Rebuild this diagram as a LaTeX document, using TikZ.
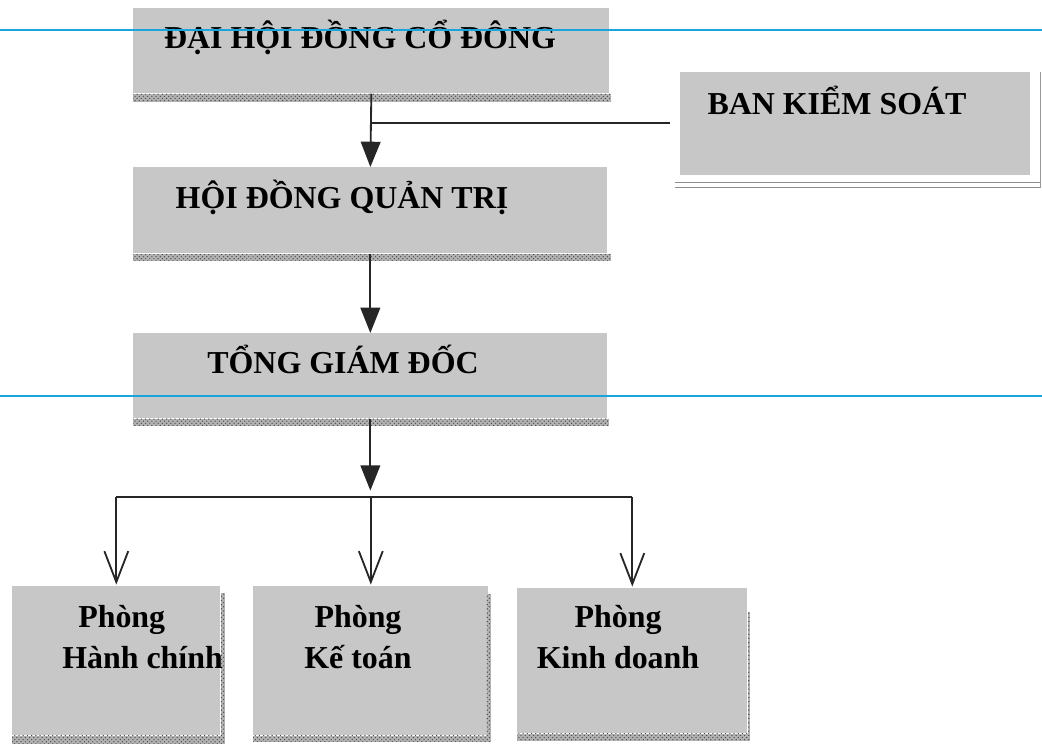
\documentclass[tikz,border=0pt]{standalone}
\usepackage{fontspec}
\setmainfont{Liberation Serif}
\usetikzlibrary{arrows.meta,patterns}

\tikzset{
  box/.style={fill=black!22, draw=none, inner sep=0pt, anchor=north west},
  boxtext/.style={font=\fontsize{22.7}{29}\selectfont\bfseries, inner sep=0pt},
  band/.style={preaction={fill=black!30}, pattern=crosshatch dots, pattern color=black!70},
  conn/.style={line width=1.3pt, black!85},
  arr/.style={conn, -{Triangle[width=14pt,length=18pt]}},
  varr/.style={conn, -{Straight Barb[width=17pt,length=22pt,line width=1.3pt]}, shorten >=1pt},
}

\begin{document}
\begin{tikzpicture}[x=0.025cm,y=-0.025cm]
  \useasboundingbox (0,0) rectangle (1042,746);

  % boxes
  \node[box, minimum width=11.9cm, minimum height=2.125cm] (dhcd) at (133,8) {};
  \node[box, minimum width=8.75cm, minimum height=2.575cm] (bks) at (680,72) {};
  \node[box, minimum width=11.85cm, minimum height=2.15cm] (hdqt) at (133,167) {};
  \node[box, minimum width=11.85cm, minimum height=2.125cm] (tgd) at (133,333) {};
  \node[box, minimum width=5.2cm, minimum height=3.725cm] (phc) at (12,586) {};
  \node[box, minimum width=5.875cm, minimum height=3.725cm] (pkt) at (253,586) {};
  \node[box, minimum width=5.75cm, minimum height=3.625cm] (pkd) at (517,588) {};

  % shadow bands
  \fill[band] (dhcd.south west) rectangle ++(478,8);
  \fill[band] (hdqt.south west) rectangle ++(478,7);
  \fill[band] (tgd.south west) rectangle ++(476,7);
  \fill[band] (phc.south west) rectangle ([xshift=0.1cm,yshift=-0.2cm]phc.south east);
  \fill[band] ([yshift=-0.175cm]phc.north east) rectangle ([xshift=0.1cm]phc.south east);
  \fill[band] (pkt.south west) rectangle ([xshift=0.05cm,yshift=-0.15cm]pkt.south east);
  \fill[band] ([xshift=-0.05cm,yshift=-0.2cm]pkt.north east) rectangle ([xshift=0.05cm]pkt.south east);
  \fill[band] (pkd.south west) rectangle ([xshift=0.05cm,yshift=-0.175cm]pkd.south east);
  \fill[band] ([yshift=-0.6cm]pkd.north east) rectangle ([xshift=0.05cm]pkd.south east);

  % frame of the control board
  \draw[black!45, line width=1.2pt] ([xshift=-0.125cm,yshift=-0.175cm]bks.south west) -- ++(365,0);
  \draw[black!45, line width=1.2pt] ([xshift=-0.125cm,yshift=-0.3cm]bks.south west) -- ++(365,0);
  \draw[black!40, line width=0.8pt] ([xshift=0.25cm]bks.north east) -- ++(0,116);

  % texts
  \node[boxtext, anchor=base] (t1) at (360,48) {ĐẠI HỘI ĐỒNG CỔ ĐÔNG};
  \node[boxtext, anchor=base] (t2) at (837,114) {BAN KIỂM SOÁT};
  \node[boxtext, anchor=base] (t3) at (342,208) {HỘI ĐỒNG QUẢN TRỊ};
  \node[boxtext, anchor=base] (t4) at (343,373) {TỔNG GIÁM ĐỐC};
  \node[boxtext, align=left, anchor=base west] (t5) at (62,668) {\hspace{0.4cm}Phòng\\Hành chính};
  \node[boxtext, align=center, anchor=base] (t6) at (358,668) {Phòng\\Kế toán};
  \node[boxtext, align=center, anchor=base] (t7) at (618,668) {Phòng\\Kinh doanh};

  % connectors
  \draw[arr] (dhcd.south) -- (hdqt.north);
  \coordinate (kn) at ([yshift=-0.725cm]dhcd.south);
  \draw[conn] (kn) -- ([xshift=-0.25cm]kn -| bks.west);
  \draw[arr] (hdqt.south) -- (tgd.north);
  \coordinate (bus) at ([yshift=-1.95cm]tgd.south);
  \draw[arr] (tgd.south) -- ([yshift=0.15cm]bus);
  \draw[conn] (phc.north |- bus) -- (pkd.north |- bus);
  \foreach \b in {phc,pkt,pkd}
    \draw[varr] (\b.north |- bus) -- (\b.north);

  % guide lines
  \draw[cyan!90!black, line width=0.8pt] (0,30) -- (1042,30);
  \draw[cyan!90!black, line width=0.8pt] (0,396) -- (1042,396);
\end{tikzpicture}
\end{document}
